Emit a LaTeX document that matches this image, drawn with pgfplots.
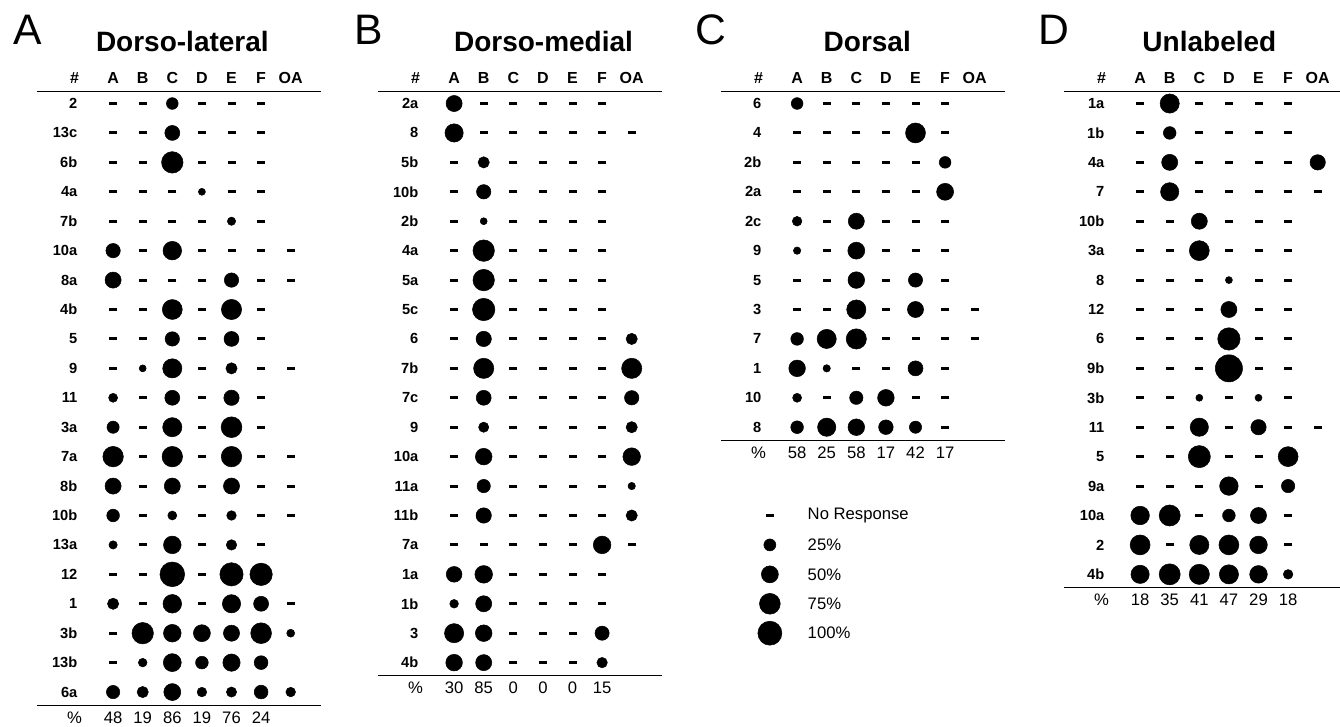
\documentclass[border=0pt]{standalone}
\usepackage{fontspec}
\setmainfont{Liberation Sans}
\usepackage{pgfplots}
\usepackage{pgfplotstable}
\pgfplotsset{compat=1.18}

% values: percent of responses (dot area); 0 = no response (dash); -1 = not tested (blank)
\pgfplotstableread{
row A B C D E F OA
2   0 0 24 0 0 0 -1
13c 0 0 39 0 0 0 -1
6b  0 0 80 0 0 0 -1
4a  0 0 0 8.5 0 0 -1
7b  0 0 0 0 12 0 -1
10a 36 0 60 0 0 0 0
8a  45 0 0 0 36 0 0
4b  0 0 69 0 71 0 -1
5   0 0 36 0 39 0 -1
9   0 8.5 64 0 22 0 0
11  14 0 39 0 41 0 -1
3a  26 0 64 0 75 0 -1
7a  73 0 73 0 73 0 0
8b  45 0 45 0 45 0 0
10b 28 0 14 0 16 0 0
13a 12 0 54 0 19 0 -1
12  0 0 106 0 94 87 -1
1   22 0 60 0 58 39 0
3b  0 80 54 50 45 75 11
13b 0 13 56 28 52 33 -1
6a  31 22 50 16 18 33 16
}\tabA

\pgfplotstableread{
row A B C D E F OA
2a  45 0 0 0 0 0 -1
8   58 0 0 0 0 0 0
5b  0 22 0 0 0 0 -1
10b 0 36 0 0 0 0 -1
2b  0 8.5 0 0 0 0 -1
4a  0 80 0 0 0 0 -1
5a  0 80 0 0 0 0 -1
5c  0 87 0 0 0 0 -1
6   0 41 0 0 0 0 22
7b  0 71 0 0 0 0 71
7c  0 39 0 0 0 0 36
9   0 18 0 0 0 0 22
10a 0 48 0 0 0 0 54
11a 0 31 0 0 0 0 9.5
11b 0 41 0 0 0 0 22
7a  0 0 0 0 0 54 0
1a  43 54 0 0 0 0 -1
1b  13 45 0 0 0 0 -1
3   64 48 0 0 0 35 -1
4b  48 45 0 0 0 19 -1
}\tabB

\pgfplotstableread{
row A B C D E F OA
6   24 0 0 0 0 0 -1
4   0 0 0 0 69 0 -1
2b  0 0 0 0 0 24 -1
2a  0 0 0 0 0 50 -1
2c  16 0 45 0 0 0 -1
9   9.5 0 50 0 0 0 -1
5   0 0 48 0 35 0 -1
3   0 0 64 0 45 0 0
7   28 64 71 0 0 0 0
1   48 9.5 0 0 39 0 -1
10  14 0 31 48 0 0 -1
8   28 58 48 37 26 0 -1
}\tabC

\pgfplotstableread{
row A B C D E F OA
1a  0 64 0 0 0 0 -1
1b  0 28 0 0 0 0 -1
4a  0 45 0 0 0 0 41
7   0 58 0 0 0 0 0
10b 0 0 45 0 0 0 -1
3a  0 0 69 0 0 0 -1
8   0 0 0 8.5 0 0 -1
12  0 0 0 45 0 0 -1
6   0 0 0 87 0 0 -1
9b  0 0 0 128 0 0 -1
3b  0 0 8.5 0 8.5 0 -1
11  0 0 58 0 41 0 0
5   0 0 85 0 0 69 -1
9a  0 0 0 60 0 31 -1
10a 60 77 0 28 45 0 -1
2   69 0 64 69 54 0 -1
4b  58 77 71 64 54 16 -1
}\tabD

\pgfplotstableread{
x y p
-0.92 15 25
-0.92 16 50
-0.92 17 75
-0.92 18 100
}\tabLeg

\pgfplotsset{
  dashmark/.style={only marks, mark=-, mark size=3pt, black, mark options={line width=2.2pt}},
  dotmark/.style={scatter, only marks, mark=*, point meta=explicit,
    scatter/use mapped color={draw=black, fill=black},
    visualization depends on={#1 \as \pv},
    scatter/@pre marker code/.append style={/tikz/mark size={9*sqrt(\pv/100)}}},
  panel/.style={
    scale only axis, x=22.2pt, y=22.07pt, y dir=reverse,
    xmin=-1.05, xmax=6.5, ymin=-0.5,
    axis line style={draw=none}, tick style={draw=none},
    xtick=\empty,
    yticklabel style={font=\bfseries\fontsize{11}{13}\selectfont},
    clip=false, anchor=north west,
    point meta min=0, point meta max=100,
  }
}

\newcommand{\plotcol}[3]{%
  \addplot[dashmark, restrict expr to domain={\thisrow{#2}}{-0.5:0.5}]
    table[x expr=#3, y expr=\coordindex] {#1};
  \addplot[dotmark={\thisrow{#2}}, restrict expr to domain={\thisrow{#2}}{0.5:1000}]
    table[x expr=#3, y expr=\coordindex, meta=#2] {#1};
}
\newcommand{\plotall}[1]{%
  \plotcol{#1}{A}{0}\plotcol{#1}{B}{1}\plotcol{#1}{C}{2}\plotcol{#1}{D}{3}%
  \plotcol{#1}{E}{4}\plotcol{#1}{F}{5}\plotcol{#1}{OA}{6}}
\newcommand{\hdrfont}{\bfseries\fontsize{12}{14}\selectfont}
\newcommand{\numfont}{\fontsize{12.5}{15}\selectfont}
\newcommand{\headers}[4]{% last row index, letter, title, title x
  \node[font=\hdrfont] at (axis cs:-1.3,-0.86) {\#};
  \node[font=\hdrfont] at (axis cs:0,-0.86) {A};
  \node[font=\hdrfont] at (axis cs:1,-0.86) {B};
  \node[font=\hdrfont] at (axis cs:2,-0.86) {C};
  \node[font=\hdrfont] at (axis cs:3,-0.86) {D};
  \node[font=\hdrfont] at (axis cs:4,-0.86) {E};
  \node[font=\hdrfont] at (axis cs:5,-0.86) {F};
  \node[font=\hdrfont] at (axis cs:6,-0.86) {OA};
  \draw[line width=0.8pt] (axis cs:-2.57,-0.42) -- (axis cs:7.03,-0.42);
  \draw[line width=0.8pt] (axis cs:-2.57,#1+0.45) -- (axis cs:7.03,#1+0.45);
  \node[font=\numfont, inner sep=0pt] at (axis cs:-1.3,#1+0.87) {\%};
  \node[font=\fontsize{32}{38}\selectfont] at (axis cs:-2.9,-2.52) {#2};
  \node[font=\bfseries\fontsize{21}{25}\selectfont] at (axis cs:#4,-2.12) {#3};
}
\newcommand{\pcts}[7]{%
  \node[font=\numfont, inner sep=0pt] at (axis cs:0,#1+0.87) {#2};
  \node[font=\numfont, inner sep=0pt] at (axis cs:1,#1+0.87) {#3};
  \node[font=\numfont, inner sep=0pt] at (axis cs:2,#1+0.87) {#4};
  \node[font=\numfont, inner sep=0pt] at (axis cs:3,#1+0.87) {#5};
  \node[font=\numfont, inner sep=0pt] at (axis cs:4,#1+0.87) {#6};
  \node[font=\numfont, inner sep=0pt] at (axis cs:5,#1+0.87) {#7};
}

\begin{document}
\begin{tikzpicture}
\begin{axis}[panel, at={(61.52pt,477.9pt)}, ymax=20.5, ytick={0,...,20},
  yticklabels from table={\tabA}{row}]
\plotall{\tabA}
\headers{20}{A}{Dorso-lateral}{2.34}
\pcts{20}{48}{19}{86}{19}{76}{24}
\end{axis}

\begin{axis}[panel, at={(317.27pt,477.9pt)}, ymax=19.5, ytick={0,...,19},
  yticklabels from table={\tabB}{row}]
\plotall{\tabB}
\headers{19}{B}{Dorso-medial}{3.02}
\pcts{19}{30}{85}{0}{0}{0}{15}
\end{axis}

\begin{axis}[panel, at={(574.52pt,477.9pt)}, ymax=11.5, ytick={0,...,11},
  yticklabels from table={\tabC}{row}]
\plotall{\tabC}
\headers{11}{C}{Dorsal}{2.37}
\pcts{11}{58}{25}{58}{17}{42}{17}
% legend
\addplot[dashmark] coordinates {(-0.92,14)};
\addplot[dotmark={\thisrow{p}}] table[x=x, y=y, meta=p] {\tabLeg};
\node[font=\numfont, anchor=west] at (axis cs:0.2,14) {No Response};
\node[font=\numfont, anchor=west] at (axis cs:0.2,15) {25\%};
\node[font=\numfont, anchor=west] at (axis cs:0.2,16) {50\%};
\node[font=\numfont, anchor=west] at (axis cs:0.2,17) {75\%};
\node[font=\numfont, anchor=west] at (axis cs:0.2,18) {100\%};
\end{axis}

\begin{axis}[panel, at={(831.77pt,477.9pt)}, ymax=16.5, ytick={0,...,16},
  yticklabels from table={\tabD}{row}]
\plotall{\tabD}
\headers{16}{D}{Unlabeled}{2.34}
\pcts{16}{18}{35}{41}{47}{29}{18}
\end{axis}
\pgfresetboundingbox
\useasboundingbox (0,0) rectangle (1005pt,544.5pt);
\end{tikzpicture}
\end{document}
